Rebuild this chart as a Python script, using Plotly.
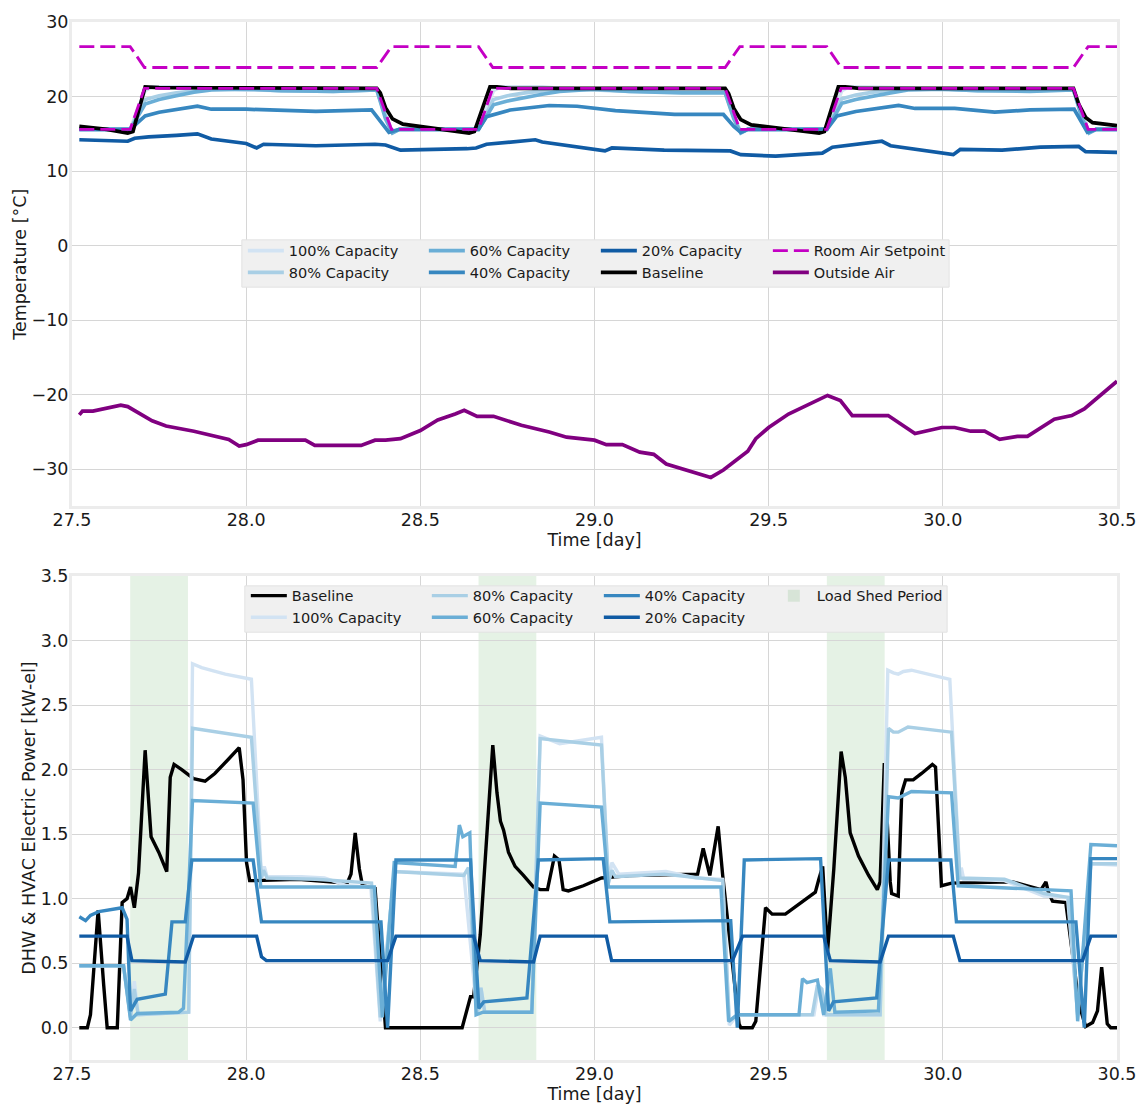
import plotly.graph_objects as go

# ---------------- DATA: top panel (temperature, degC) ----------------
sp_t = [27.521, 27.667, 27.708, 28.375, 28.417, 28.667, 28.708, 29.375, 29.417, 29.667, 29.708, 30.375, 30.417, 30.5]
sp_cool = [26.7, 26.7, 23.9, 23.9, 26.7, 26.7, 23.9, 23.9, 26.7, 26.7, 23.9, 23.9, 26.7, 26.7]
sp_heat = [15.6, 15.6, 21.1, 21.1, 15.6, 15.6, 21.1, 21.1, 15.6, 15.6, 21.1, 21.1, 15.6, 15.6]

tb_t = [27.521, 27.6, 27.66, 27.675, 27.71, 27.75, 28.375, 28.385, 28.4, 28.42, 28.45, 28.55, 28.64, 28.655,
        28.7, 28.72, 28.76, 29.375, 29.385, 29.40, 29.42, 29.45, 29.55, 29.645, 29.66, 29.7, 29.72, 29.76,
        30.375, 30.39, 30.41, 30.43, 30.5]
tb_v = [16.0, 15.6, 15.1, 15.3, 21.3, 21.2, 21.1, 20.5, 18.5, 17.0, 16.3, 15.7, 15.1, 15.3,
        21.3, 21.3, 21.1, 21.1, 20.4, 18.4, 16.9, 16.2, 15.7, 15.1, 15.3, 21.3, 21.3, 21.1,
        21.1, 19.0, 17.2, 16.5, 16.1]

t100_t = [27.521, 27.667, 27.71, 27.73, 27.85, 27.9, 28.0, 28.1, 28.25, 28.375, 28.40, 28.42, 28.44,
          28.667, 28.71, 28.73, 28.85, 28.9, 29.0, 29.1, 29.25, 29.375, 29.40, 29.42, 29.44,
          29.667, 29.71, 29.73, 29.85, 29.9, 30.0, 30.1, 30.25, 30.375, 30.40, 30.42, 30.44, 30.5]
t100_v = [15.6, 15.6, 20.8, 21.3, 21.3, 21.1, 20.9, 20.8, 20.8, 20.9, 17.5, 15.2, 15.6,
          15.6, 20.8, 21.3, 21.3, 21.1, 21.0, 20.8, 20.7, 20.7, 17.3, 15.2, 15.6,
          15.6, 20.8, 21.3, 21.2, 21.1, 21.0, 20.9, 20.8, 20.9, 17.5, 15.2, 15.6, 15.6]

t80_t = [27.521, 27.667, 27.71, 27.75, 27.8, 27.85, 27.9, 28.0, 28.1, 28.25, 28.375, 28.40, 28.42, 28.44,
         28.667, 28.71, 28.75, 28.8, 28.85, 28.9, 29.0, 29.1, 29.25, 29.375, 29.40, 29.42, 29.44,
         29.667, 29.71, 29.75, 29.8, 29.85, 29.9, 30.0, 30.1, 30.25, 30.375, 30.40, 30.42, 30.44, 30.5]
t80_v = [15.6, 15.6, 19.6, 20.1, 20.5, 20.8, 21.0, 21.0, 20.8, 20.7, 20.9, 17.3, 15.2, 15.6,
         15.6, 19.6, 20.1, 20.5, 20.8, 21.0, 20.9, 20.7, 20.6, 20.6, 17.2, 15.2, 15.6,
         15.6, 19.7, 20.2, 20.6, 20.9, 21.0, 21.0, 20.8, 20.8, 20.9, 17.3, 15.2, 15.6, 15.6]

t60_t = t80_t
t60_v = [15.6, 15.6, 19.0, 19.6, 20.1, 20.6, 20.9, 21.0, 20.8, 20.7, 20.9, 17.0, 15.1, 15.6,
         15.6, 18.9, 19.4, 19.9, 20.3, 20.7, 21.0, 20.7, 20.5, 20.5, 17.0, 15.1, 15.6,
         15.6, 19.1, 19.6, 20.1, 20.5, 20.9, 21.0, 20.8, 20.7, 20.9, 17.0, 15.1, 15.6, 15.6]

t40_t = [27.521, 27.667, 27.71, 27.75, 27.86, 27.9, 28.0, 28.2, 28.36, 28.39, 28.41, 28.44,
         28.667, 28.69, 28.758, 28.87, 28.95, 29.06, 29.23, 29.37, 29.40, 29.42, 29.44,
         29.667, 29.696, 29.75, 29.873, 29.92, 30.034, 30.149, 30.25, 30.377, 30.40, 30.415, 30.44, 30.5]
t40_v = [15.6, 15.6, 17.4, 17.9, 18.7, 18.3, 18.3, 18.0, 18.2, 16.3, 15.2, 15.6,
         15.6, 17.3, 18.2, 18.8, 18.7, 18.1, 17.6, 17.6, 16.0, 15.2, 15.6,
         15.6, 17.4, 18.0, 18.8, 18.4, 18.4, 17.9, 18.2, 18.3, 16.3, 15.2, 15.6, 15.6]

t20_t = [27.521, 27.66, 27.68, 27.72, 27.80, 27.86, 27.9, 28.0, 28.03, 28.05, 28.2, 28.37, 28.40, 28.443,
         28.634, 28.66, 28.69, 28.83, 28.85, 28.95, 29.03, 29.05, 29.2, 29.39, 29.42, 29.52,
         29.654, 29.683, 29.825, 29.85, 29.94, 30.03, 30.05, 30.17, 30.28, 30.39, 30.41, 30.5]
t20_v = [14.2, 14.0, 14.4, 14.6, 14.8, 15.0, 14.3, 13.7, 13.1, 13.6, 13.4, 13.6, 13.5, 12.8,
         13.0, 13.1, 13.6, 14.2, 13.9, 13.3, 12.7, 13.1, 12.8, 12.7, 12.2, 12.0,
         12.4, 13.2, 14.0, 13.4, 12.8, 12.2, 12.9, 12.8, 13.2, 13.3, 12.6, 12.5]

oa_t = [27.521, 27.53, 27.56, 27.60, 27.64, 27.66, 27.73, 27.77, 27.85, 27.95, 27.98, 28.0, 28.034, 28.17,
        28.197, 28.33, 28.37, 28.40, 28.443, 28.5, 28.55, 28.6, 28.626, 28.663, 28.71, 28.79, 28.87, 28.92,
        29.0, 29.034, 29.08, 29.13, 29.17, 29.206, 29.29, 29.334, 29.37, 29.44, 29.463, 29.5, 29.557, 29.62,
        29.669, 29.706, 29.74, 29.843, 29.92, 29.997, 30.034, 30.08, 30.12, 30.163, 30.214, 30.243, 30.32,
        30.37, 30.406, 30.5]
oa_v = [-22.7, -22.2, -22.2, -21.8, -21.4, -21.6, -23.5, -24.2, -24.9, -26.0, -26.9, -26.7, -26.1, -26.1,
        -26.8, -26.8, -26.1, -26.1, -25.9, -24.8, -23.4, -22.6, -22.1, -22.9, -22.9, -24.1, -25.0, -25.7,
        -26.1, -26.7, -26.7, -27.7, -28.0, -29.3, -30.4, -31.1, -30.1, -27.6, -25.9, -24.4, -22.6, -21.2,
        -20.1, -20.8, -22.8, -22.8, -25.2, -24.4, -24.4, -24.9, -24.9, -26.0, -25.6, -25.6, -23.3,
        -22.8, -21.9, -18.2]

# ---------------- DATA: bottom panel (electric power, kW-el) ----------------
shed_start = [27.667, 28.667, 29.667]
shed_end = [27.833, 28.833, 29.833]

pb_t = [27.521, 27.544, 27.553, 27.575, 27.591, 27.601, 27.630, 27.644, 27.658, 27.668, 27.679, 27.691, 27.710,
        27.727, 27.749, 27.772, 27.782, 27.793, 27.815, 27.849, 27.882, 27.91, 27.949, 27.98, 27.991, 28.001,
        28.01, 28.025, 28.15, 28.29, 28.301, 28.313, 28.325, 28.334, 28.37, 28.40, 28.62, 28.634, 28.644,
        28.653, 28.672, 28.708, 28.72, 28.73, 28.739, 28.753, 28.772, 28.796, 28.825, 28.844, 28.865, 28.885,
        28.898, 28.91, 28.925, 28.968, 29.006, 29.02, 29.10, 29.296, 29.312, 29.331, 29.355, 29.368, 29.415,
        29.42, 29.453, 29.463, 29.491, 29.51, 29.548, 29.587, 29.634, 29.644, 29.655, 29.669, 29.687, 29.708,
        29.72, 29.734, 29.758, 29.787, 29.812, 29.82, 29.832, 29.849, 29.853, 29.872, 29.882, 29.893, 29.915,
        29.939, 29.97, 29.979, 29.996, 30.025, 30.2, 30.282, 30.296, 30.303, 30.315, 30.353, 30.391, 30.41,
        30.43, 30.444, 30.456, 30.472, 30.482, 30.5]
pb_v = [0.0, 0.0, 0.10, 0.91, 0.33, 0.0, 0.0, 0.97, 1.0, 1.09, 0.93, 1.20, 2.15,
        1.48, 1.36, 1.21, 1.94, 2.04, 2.0, 1.93, 1.91, 1.97, 2.08, 2.17, 1.92, 1.28,
        1.14, 1.14, 1.15, 1.12, 1.19, 1.51, 1.23, 1.10, 1.08, 0.0, 0.0, 0.13, 0.24,
        0.24, 0.72, 2.19, 1.82, 1.60, 1.53, 1.36, 1.25, 1.18, 1.09, 1.07, 1.07, 1.33,
        1.30, 1.07, 1.06, 1.10, 1.14, 1.16, 1.18, 1.19, 1.39, 1.18, 1.56, 1.18, 0.03,
        0.0, 0.0, 0.05, 0.93, 0.88, 0.88, 0.96, 1.05, 1.15, 1.25, 0.59, 1.23, 2.14,
        1.94, 1.51, 1.33, 1.18, 1.07, 1.13, 2.05, 1.13, 1.04, 1.02, 1.82, 1.92, 1.92,
        1.97, 2.04, 2.02, 1.10, 1.12, 1.13, 1.07, 1.13, 1.05, 0.98, 0.97, 0.18, 0.01,
        0.04, 0.13, 0.47, 0.03, 0.0, 0.0]

p100_t = [27.521, 27.648, 27.668, 27.679, 27.69, 27.835, 27.846, 27.872, 27.94, 28.015, 28.044, 28.052, 28.06,
          28.158, 28.225, 28.29, 28.358, 28.385, 28.425, 28.625, 28.663, 28.674, 28.685, 28.82, 28.844, 28.9,
          29.02, 29.04, 29.05, 29.07, 29.205, 29.291, 29.368, 29.387, 29.41, 29.63, 29.644, 29.658, 29.82,
          29.842, 29.858, 29.872, 29.887, 29.91, 30.02, 30.049, 30.053, 30.06, 30.177, 30.29, 30.358, 30.387,
          30.425, 30.5]
p100_v = [0.48, 0.48, 0.08, 0.36, 0.10, 0.12, 2.82, 2.79, 2.74, 2.70, 1.17, 1.25, 1.17,
          1.17, 1.16, 1.10, 1.09, 0.05, 1.21, 1.19, 0.10, 0.31, 0.12, 0.12, 2.26, 2.20,
          2.25, 1.12, 1.28, 1.19, 1.21, 1.16, 1.15, 0.02, 0.10, 0.10, 0.33, 0.10, 0.10,
          2.77, 2.75, 2.74, 2.76, 2.77, 2.70, 1.16, 1.24, 1.15, 1.14, 1.02, 1.01, 0.10,
          1.27, 1.26]

p80_t = [27.521, 27.648, 27.668, 27.679, 27.69, 27.835, 27.846, 28.015, 28.044, 28.05, 28.06, 28.2, 28.36,
         28.385, 28.425, 28.625, 28.638, 28.663, 28.674, 28.685, 28.82, 28.844, 28.95, 29.02, 29.04, 29.05,
         29.06, 29.2, 29.368, 29.387, 29.41, 29.625, 29.64, 29.653, 29.665, 29.82, 29.844, 29.858, 29.872,
         29.9, 30.025, 30.049, 30.177, 30.29, 30.36, 30.387, 30.425, 30.5]
p80_v = [0.48, 0.48, 0.08, 0.30, 0.10, 0.12, 2.32, 2.25, 1.16, 1.22, 1.16, 1.15, 1.12,
         0.08, 1.21, 1.18, 1.24, 0.10, 0.31, 0.12, 0.12, 2.24, 2.21, 2.19, 1.12, 1.22,
         1.17, 1.19, 1.14, 0.05, 0.10, 0.10, 0.33, 0.30, 0.10, 0.10, 2.32, 2.29, 2.29,
         2.33, 2.29, 1.16, 1.15, 1.04, 1.01, 0.10, 1.27, 1.27]

p60_t = [27.521, 27.648, 27.668, 27.687, 27.806, 27.82, 27.846, 28.02, 28.042, 28.368, 28.391, 28.425, 28.60,
         28.612, 28.622, 28.642, 28.660, 28.68, 28.82, 28.844, 29.02, 29.04, 29.363, 29.385, 29.41, 29.587,
         29.597, 29.61, 29.64, 29.658, 29.677, 29.69, 29.815, 29.844, 29.872, 29.91, 30.025, 30.044, 30.368,
         30.387, 30.425, 30.5]
p60_v = [0.48, 0.48, 0.06, 0.11, 0.12, 0.15, 1.76, 1.74, 1.09, 1.09, 0.08, 1.28, 1.25,
         1.57, 1.48, 1.51, 0.10, 0.12, 0.12, 1.74, 1.71, 1.09, 1.09, 0.05, 0.10, 0.10,
         0.38, 0.35, 0.37, 0.10, 0.46, 0.12, 0.13, 1.79, 1.78, 1.83, 1.82, 1.10, 1.06,
         0.05, 1.42, 1.41]

p40_t = [27.521, 27.539, 27.553, 27.577, 27.644, 27.658, 27.668, 27.687, 27.768, 27.787, 27.825, 27.844, 28.02,
         28.044, 28.387, 28.406, 28.43, 28.644, 28.668, 28.682, 28.806, 28.839, 29.025, 29.044, 29.391, 29.41,
         29.43, 29.649, 29.672, 29.686, 29.81, 29.844, 30.023, 30.039, 30.382, 30.406, 30.425, 30.5]
p40_v = [0.86, 0.83, 0.87, 0.90, 0.93, 0.84, 0.13, 0.22, 0.26, 0.82, 0.82, 1.30, 1.30,
         0.82, 0.82, 0.0, 1.30, 1.30, 0.15, 0.20, 0.23, 1.30, 1.31, 0.82, 0.83, 0.0,
         1.30, 1.31, 0.13, 0.20, 0.23, 1.30, 1.30, 0.82, 0.82, 0.0, 1.31, 1.31]

p20_t = [27.521, 27.658, 27.672, 27.825, 27.849, 28.03, 28.044, 28.058, 28.406, 28.43, 28.653, 28.672, 28.825,
         28.844, 29.034, 29.049, 29.396, 29.425, 29.658, 29.677, 29.82, 29.844, 30.03, 30.049, 30.401, 30.425, 30.5]
p20_v = [0.71, 0.71, 0.52, 0.51, 0.71, 0.71, 0.55, 0.52, 0.52, 0.71, 0.71, 0.52, 0.51,
         0.71, 0.71, 0.52, 0.52, 0.71, 0.71, 0.52, 0.51, 0.71, 0.71, 0.52, 0.52, 0.71, 0.71]

# ---------------- STYLE ----------------
FONT = "DejaVu Sans"
C100, C80, C60, C40, C20 = "#d2e3f3", "#a9cfe5", "#6aaed6", "#3787c0", "#105ba4"
MAG, PURP = "#c400c4", "#800080"
LW = 3.7
TXT = "#1a1a1a"

# plot region in page pixels
L, R, T, B = 72, 1124, 15, 1068
W, H = 1148, 1108
TOP_BOTTOM, BOT_TOP = 506.5, 577

def PX(px):
    return (px - L) / float(R - L)

def PY(py):
    return (B - py) / float(B - T)

COLW = [130, 121, 121, 140]  # legend column widths

fig = go.Figure()

def add(x, y, name, color, xa, ya, legend, col, show=True, dash=None, width=LW):
    fig.add_trace(go.Scatter(
        x=x, y=y, name=name, mode="lines", xaxis=xa, yaxis=ya,
        line=dict(color=color, width=width, dash=dash),
        legend=legend, legendwidth=COLW[col], showlegend=show, hoverinfo="skip"))

# top panel traces (draw order as in reference)
add(t100_t, t100_v, "100% Capacity", C100, "x", "y", "legend", 0)
add(t80_t, t80_v, "80% Capacity", C80, "x", "y", "legend2", 0)
add(t60_t, t60_v, "60% Capacity", C60, "x", "y", "legend", 1)
add(t40_t, t40_v, "40% Capacity", C40, "x", "y", "legend2", 1)
add(t20_t, t20_v, "20% Capacity", C20, "x", "y", "legend", 2)
add(tb_t, tb_v, "Baseline", "black", "x", "y", "legend2", 2)
add(sp_t, sp_heat, "Room Air Setpoint", MAG, "x", "y", "legend", 3, dash="15px,6px", width=2.9)
add(sp_t, sp_cool, "Room Air Setpoint", MAG, "x", "y", "legend", 3, show=False, dash="15px,6px", width=2.9)
add(oa_t, oa_v, "Outside Air", PURP, "x", "y", "legend2", 3)

# bottom panel traces
BW = 3.4
add(pb_t, pb_v, "Baseline", "black", "x2", "y2", "legend3", 0, width=BW)
add(p100_t, p100_v, "100% Capacity", C100, "x2", "y2", "legend4", 0, width=BW)
add(p80_t, p80_v, "80% Capacity", C80, "x2", "y2", "legend3", 1, width=BW)
add(p60_t, p60_v, "60% Capacity", C60, "x2", "y2", "legend4", 1, width=BW)
add(p40_t, p40_v, "40% Capacity", C40, "x2", "y2", "legend3", 2, width=BW)
add(p20_t, p20_v, "20% Capacity", C20, "x2", "y2", "legend4", 2, width=BW)

shapes = []
for i, (a, b) in enumerate(zip(shed_start, shed_end)):
    shapes.append(dict(type="rect", xref="x2", yref="y2 domain", x0=a, x1=b, y0=0, y1=1,
                       fillcolor="rgba(0,128,0,0.10)", line=dict(width=0), layer="below",
                       name="Load Shed Period", showlegend=(i == 0), legend="legend3",
                       legendwidth=COLW[3], legendrank=2000))
# legend background boxes
for (x0, x1, y0, y1) in [(243, 955, 236, 284), (246, 953, 587, 634)]:
    shapes.append(dict(type="rect", xref="paper", yref="paper", x0=PX(x0), x1=PX(x1),
                       y0=PY(y1), y1=PY(y0), fillcolor="#f0f0f0",
                       line=dict(color="#e2e2e2", width=1), layer="above"))

axis_common = dict(showgrid=True, gridcolor="#d6d6d6", gridwidth=1,
                   showline=True, linecolor="#ececec", linewidth=3, mirror=True,
                   ticks="", zeroline=False, tickfont=dict(size=17.5, color=TXT))

xax = dict(axis_common, range=[27.5, 30.5], dtick=0.5, tick0=27.5, tickformat=".1f",
           ticklabelstandoff=-4,
           title=dict(text="Time [day]", font=dict(size=17.5, color=TXT), standoff=0))

leg_common = dict(orientation="h", bgcolor="rgba(0,0,0,0)", borderwidth=0,
                  font=dict(family=FONT, size=14.5, color=TXT), xanchor="left", yanchor="middle",
                  itemwidth=36, tracegroupgap=0)

fig.update_layout(
    width=W, height=H,
    margin=dict(l=L, r=W - R, t=T, b=H - B),
    paper_bgcolor="white", plot_bgcolor="white",
    font=dict(family=FONT, size=17.5, color=TXT),
    xaxis=dict(xax, anchor="y", domain=[0, 1]),
    xaxis2=dict(xax, anchor="y2", domain=[0, 1]),
    yaxis=dict(axis_common, range=[-35, 30], dtick=10, anchor="x", ticklabelstandoff=-3,
               domain=[PY(TOP_BOTTOM), PY(T)],
               title=dict(text="Temperature [°C]", font=dict(size=17.5, color=TXT), standoff=1)),
    yaxis2=dict(axis_common, range=[-0.25, 3.5], dtick=0.5, tickformat=".1f", anchor="x2",
                ticklabelstandoff=-3, domain=[PY(B), PY(BOT_TOP)],
                title=dict(text="DHW &amp; HVAC Electric Power [kW-el]", font=dict(size=17.5, color=TXT), standoff=1)),
    legend=dict(leg_common, x=PX(244), y=PY(247)),
    legend2=dict(leg_common, x=PX(244), y=PY(269)),
    legend3=dict(leg_common, x=PX(247), y=PY(597)),
    legend4=dict(leg_common, x=PX(247), y=PY(619)),
    shapes=shapes,
    showlegend=True,
)

# place the figure flush with the page corner (remove the default body margin)
fig.write_html("out.html", config={"displayModeBar": False},
               post_script="document.body.style.margin='0';document.body.style.overflow='hidden';")
